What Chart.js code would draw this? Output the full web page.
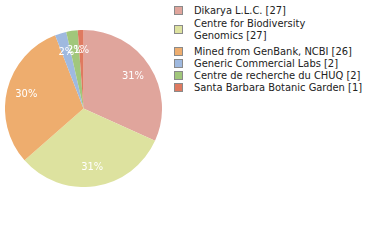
<!DOCTYPE html>
<html>
<head>
    <title>Sources</title>
    <script src="https://cdn.jsdelivr.net/npm/chart.js"></script>
    <style>
        body { margin: 0; background: #fff; font-family: "DejaVu Sans Condensed", "DejaVu Sans", sans-serif; }
        #wrap { position: relative; width: 380px; height: 240px; }
        #pie { position: absolute; left: 5px; top: 30px; }
        #legend { position: absolute; left: 174px; top: 4.5px; font-size: 11px; color: #222; }
        .item { display: flex; align-items: center; line-height: 12px; }
        .box { width: 7px; height: 7px; border: 1px solid #8a8a8a; margin-right: 11px; flex: none; }
        .txt { width: 178px; }
    </style>
</head>
<body>
    <div id="wrap">
        <canvas id="pie" width="157" height="157"></canvas>
        <div id="legend"></div>
    </div>

    <script>
        const labels = ['Dikarya L.L.C.', 'Centre for Biodiversity Genomics', 'Mined from GenBank, NCBI',
                        'Generic Commercial Labs', 'Centre de recherche du CHUQ', 'Santa Barbara Botanic Garden'];
        const counts = [27, 27, 26, 2, 2, 1];
        const colors = ['#e0a59c', '#dde29f', '#eead6e', '#9fb9df', '#a1c77b', '#df7a60'];

        const total = counts.reduce((a, b) => a + b, 0);

        // percentages written inside the slices
        const sliceLabels = {
            id: 'sliceLabels',
            afterDatasetsDraw(chart) {
                const ctx = chart.ctx;
                const arcs = chart.getDatasetMeta(0).data;
                ctx.save();
                ctx.font = '11px "DejaVu Sans Condensed", sans-serif';
                ctx.fillStyle = '#fff';
                ctx.textAlign = 'center';
                ctx.textBaseline = 'middle';
                arcs.forEach((arc, i) => {
                    const mid = (arc.startAngle + arc.endAngle) / 2;
                    const r = arc.outerRadius * 0.75;
                    const pct = Math.floor(counts[i] / total * 100) + '%';
                    ctx.fillText(pct, arc.x + Math.cos(mid) * r, arc.y + Math.sin(mid) * r);
                });
                ctx.restore();
            }
        };

        new Chart(document.getElementById('pie').getContext('2d'), {
            type: 'pie',
            data: {
                labels: labels,
                datasets: [{
                    data: counts,
                    backgroundColor: colors,
                    borderWidth: 0
                }]
            },
            options: {
                responsive: false,
                animation: false,
                plugins: {
                    legend: { display: false },
                    tooltip: { enabled: false }
                }
            },
            plugins: [sliceLabels]
        });

        // legend on the right
        const legend = document.getElementById('legend');
        labels.forEach((label, i) => {
            const item = document.createElement('div');
            item.className = 'item';
            if (i === 1) { item.style.marginTop = '1px'; item.style.marginBottom = '4px'; }
            const box = document.createElement('div');
            box.className = 'box';
            box.style.background = colors[i];
            const txt = document.createElement('div');
            txt.className = 'txt';
            txt.textContent = `${label} [${counts[i]}]`;
            if (i === 1) txt.style.width = '140px';
            item.appendChild(box);
            item.appendChild(txt);
            legend.appendChild(item);
        });
    </script>
</body>
</html>
